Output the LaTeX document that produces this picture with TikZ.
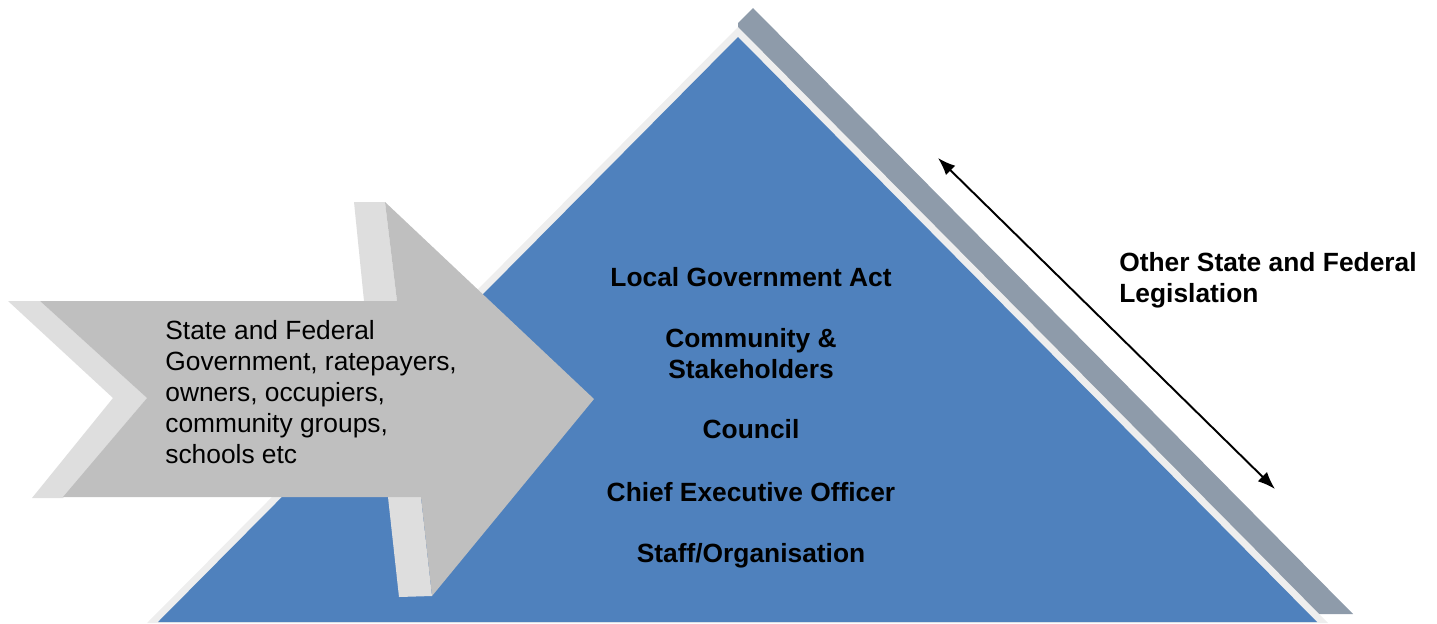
\documentclass[tikz,border=0pt]{standalone}
\usepackage{fontspec}
\setmainfont{Liberation Sans}
\usetikzlibrary{arrows.meta}

\definecolor{pyrblue}{HTML}{4F81BD}
\definecolor{pyrshade}{HTML}{8E9BAA}
\definecolor{pyredge}{HTML}{EEEEEE}
\definecolor{arrface}{HTML}{BFBFBF}
\definecolor{arrside}{HTML}{DEDEDE}

\tikzset{
  layer/.style={font=\bfseries\fontsize{15}{17.6}\selectfont, align=center, inner sep=0pt, anchor=base},
  plaintext/.style={font=\fontsize{15}{17.6}\selectfont, align=left, inner sep=0pt, anchor=base west},
}

\begin{document}
\begin{tikzpicture}[x=0.02cm,y=-0.02cm]
            \useasboundingbox (0,0) rectangle (1437,623);

            % pyramid
            \fill[pyrshade] (738,23)--(753,8)--(1353,614)--(738,614)--cycle;
            \fill[pyredge] (738,27)--(1328,623)--(147,623)--cycle;
            \fill[pyrblue] (738,37)--(1317,622)--(158,622)--cycle;

            % arrow
            \fill[arrside] (8,301)--(40,301)--(147,398)--(63,498)--(32,498)--(113,398)--cycle;
            \fill[arrside] (354,202)--(385,202)--(397,301)--(364,301)--cycle;
            \fill[arrside] (388,497)--(421,497)--(432,596)--(399,597)--cycle;
            \fill[arrface] (40,301)--(397,301)--(385,202)--(594,399)--(432,596)--(421,497)--(63,497)--(147,398)--cycle;

            % last baseline is the anchor
            \node[plaintext] (groups) at (165,463) {State and Federal\\Government, ratepayers,\\owners, occupiers,\\community groups,\\schools etc};

            \node[layer] (act) at (751,286) {Local Government Act};
            \node[layer] (community) at (751,378) {Community \&\\Stakeholders};
            \node[layer] (council) at (751,438) {Council};
            \node[layer] (ceo) at (751,501) {Chief Executive Officer};
            \node[layer] (staff) at (751,562) {Staff/Organisation};

            \node[plaintext, font=\bfseries\fontsize{15}{17.6}\selectfont] (legislation) at (1119,302) {Other State and Federal\\Legislation};

            \coordinate (legtop) at (938,158);
            \coordinate (legbot) at (1275,489);
            \draw[line width=1.1pt, {Latex[length=10pt,width=7.5pt]}-{Latex[length=10pt,width=7.5pt]}] (legtop)--(legbot);
        \end{tikzpicture}
\end{document}
